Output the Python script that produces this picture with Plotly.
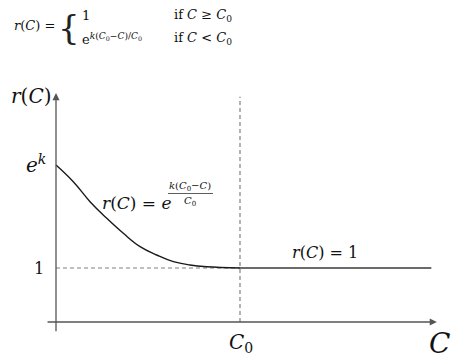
import plotly.graph_objects as go

# ---- data (data units: C0 = 1, r = 1 at the threshold) ----
C0 = 1.0
EK = 2.907                      # value of e^k on the r axis
curve_C = [0.0, 0.094, 0.185, 0.276, 0.366, 0.457, 0.547, 0.638, 0.728, 0.819, 1.0]
curve_r = [2.907, 2.598, 2.228, 1.920, 1.642, 1.395, 1.241, 1.117, 1.056, 1.024, 1.0]
flat_C = [1.0, 2.04]
flat_r = [1.0, 1.0]
x_axis_span = [-0.054, 2.07]
y_axis_span = [-0.2, 4.24]
c0_dash_top = 4.17

W, H = 463, 361
SERIF = "'DejaVu Serif', 'Liberation Serif', serif"
AX = "#555555"
DASH = "#808080"

fig = go.Figure()

fig.add_trace(go.Scatter(x=[0, C0], y=[1, 1], mode="lines",
                         line=dict(color=DASH, width=1, dash="4px,3px"), hoverinfo="skip"))
fig.add_trace(go.Scatter(x=[C0, C0], y=[0, c0_dash_top], mode="lines",
                         line=dict(color=DASH, width=1.2, dash="4px,3px"), hoverinfo="skip"))
fig.add_trace(go.Scatter(x=curve_C, y=curve_r, mode="lines", line_shape="spline",
                         line=dict(color="#1a1a1a", width=1.4, smoothing=1.2), hoverinfo="skip"))
fig.add_trace(go.Scatter(x=flat_C, y=flat_r, mode="lines",
                         line=dict(color="#3a3a3a", width=1.3), hoverinfo="skip"))

ann = []
ann.append(dict(x=x_axis_span[1], y=0, ax=x_axis_span[0], ay=0, xref="x", yref="y",
                axref="x", ayref="y", showarrow=True, arrowhead=2, arrowsize=1.1,
                arrowwidth=1.3, arrowcolor=AX, text=""))
ann.append(dict(x=0, y=y_axis_span[1], ax=0, ay=y_axis_span[0], xref="x", yref="y",
                axref="x", ayref="y", showarrow=True, arrowhead=2, arrowsize=1.1,
                arrowwidth=1.3, arrowcolor=AX, text=""))


def txt(px, py, s, size, anchor="center"):
    ann.append(dict(x=px / W, y=1 - py / H, xref="paper", yref="paper", text=s,
                    showarrow=False, xanchor=anchor, yanchor="middle",
                    font=dict(family=SERIF, size=size, color="#111111")))


# top formula
txt(12, 26, "<i>r</i>(<i>C</i>) =", 13, "left")
ann.append(dict(x=69 / W, y=1 - 27 / H, xref="paper", yref="paper", text="{",
                showarrow=False, xanchor="center", yanchor="middle",
                font=dict(family=SERIF, size=34, color="#222222")))
txt(80, 15, "1", 13, "left")
txt(80, 39, "e<sup><i>k</i>(<i>C</i><sub>0</sub>−<i>C</i>)/<i>C</i><sub>0</sub></sup>", 13, "left")
txt(172, 15, "if <i>C</i> ≥ <i>C</i><sub>0</sub>", 13, "left")
txt(172, 38, "if <i>C</i> &lt; <i>C</i><sub>0</sub>", 13, "left")

# axis labels
txt(31, 96, "<i>r</i>(<i>C</i>)", 20)
txt(36, 164, "<i>e</i><sup><i>k</i></sup>", 20)
txt(39, 268, "1", 16)
txt(241, 343, "<i>C</i><sub>0</sub>", 20)
txt(439, 343, "<i>C</i>", 28)

# curve labels
txt(100, 203, "<i>r</i>(<i>C</i>) = <i>e</i>", 17, "left")
txt(190, 186, "<i>k</i>(<i>C</i><sub>0</sub>−<i>C</i>)", 10)
txt(190, 201, "<i>C</i><sub>0</sub>", 10)
txt(290, 252, "<i>r</i>(<i>C</i>) = 1", 16, "left")

fig.update_layout(
    width=W, height=H, autosize=False,
    margin=dict(l=0, r=0, t=0, b=0),
    paper_bgcolor="white", plot_bgcolor="white",
    showlegend=False,
    annotations=ann,
    shapes=[dict(type="line", xref="paper", yref="paper",
                 x0=168 / W, x1=213 / W, y0=1 - 193.5 / H, y1=1 - 193.5 / H,
                 line=dict(color="#333333", width=0.8))],
    xaxis=dict(range=[(0 - 56) / 184, (W - 56) / 184], visible=False, fixedrange=True),
    yaxis=dict(range=[(322 - H) / 54, 322 / 54], visible=False, fixedrange=True),
)

fig.write_html("out.html")
